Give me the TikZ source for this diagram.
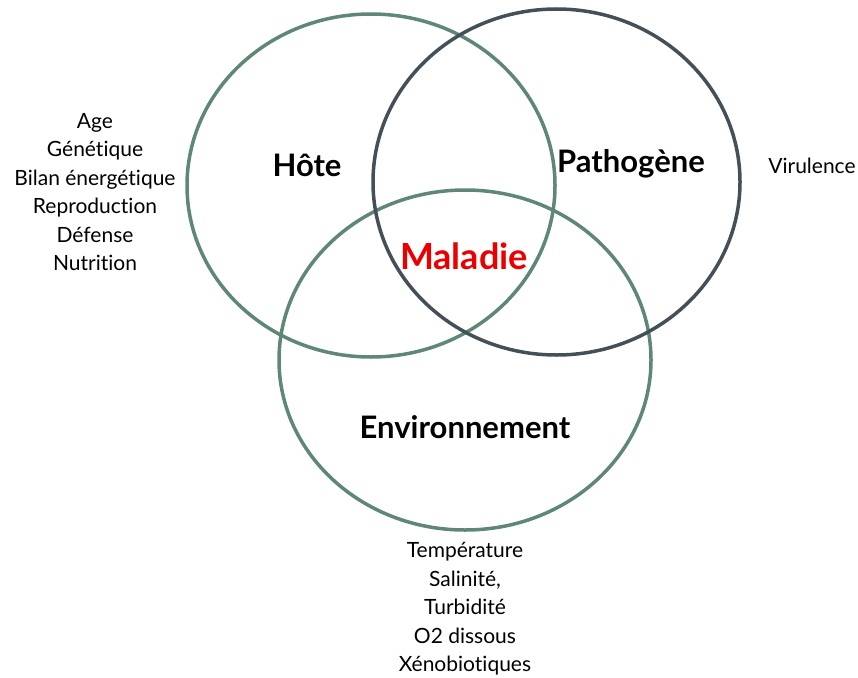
\documentclass[tikz,border=0pt]{standalone}
\usepackage{fontspec}
\setmainfont{Lato}[Ligatures = NoCommon]
\definecolor{vertgris}{RGB}{94,135,118}
\definecolor{ardoise}{RGB}{68,80,88}
\definecolor{rougevif}{RGB}{235,0,0}

\begin{document}
\begin{tikzpicture}[
x = 1pt, y = -1pt, % pixel coordinates, y downwards
cercle/.style = {line width = 3.5pt}, % circle line style
titre/.style = {font = \fontsize{31}{34}\selectfont\bfseries},
liste/.style = {align = center, font = \fontsize{21}{28.5}\selectfont}
]
\useasboundingbox (0,0) rectangle (858,677);
% the three circles
\draw[cercle, vertgris] (371,185.5) ellipse [x radius = 184, y radius = 171.5];
\draw[cercle, vertgris] (465,360) ellipse [x radius = 186, y radius = 170];
\draw[cercle, ardoise] (556.5,182) ellipse [x radius = 183.5, y radius = 173];
% titles
\node[titre] (hote) at (307,165) {Hôte};
\node[titre] (patho) at (631,164) {Pathogène};
\node[titre] (env) at (465,427) {Environnement};
\node[titre, rougevif, font = \fontsize{36}{38}\selectfont\bfseries] (maladie) at (464,256) {Maladie};
% factors
\node[liste] (fhote) at (95,192) {Age\\Génétique\\Bilan énergétique\\Reproduction\\Défense\\Nutrition};
\node[liste] (fpatho) at (812,166) {Virulence};
\node[liste] (fenv) at (465,609) {Température\\Salinité,\\Turbidité\\O2 dissous\\Xénobiotiques};
\end{tikzpicture}
\end{document}
